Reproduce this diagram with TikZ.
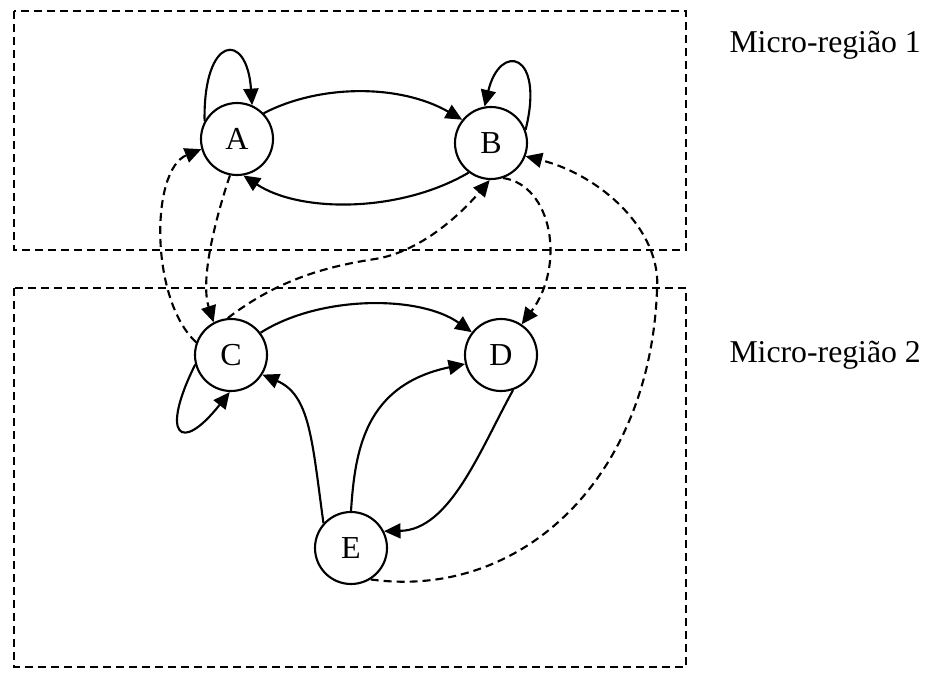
\documentclass[tikz,border=0pt]{standalone}
\usepackage{fontspec}
\setmainfont{Liberation Serif}
\usetikzlibrary{arrows.meta}
\begin{document}
\begin{tikzpicture}[x=0.4pt,y=-0.4pt,
  state/.style={circle,draw,line width=0.85pt,minimum size=28.8pt,inner sep=0pt,font=\fontsize{12.8}{14}\selectfont},
  edge/.style={line width=0.85pt,-{Triangle[length=6.6pt,width=6pt]}},
  link/.style={edge,dash pattern=on 3.2pt off 2pt},
  region/.style={line width=0.85pt,dash pattern=on 3.2pt off 2pt},
  tag/.style={anchor=base west,inner sep=0pt,font=\fontsize{12.7}{14}\selectfont}]
\useasboundingbox (0,0) rectangle (932,673);

% micro-regions
\draw[region] (14,11) rectangle (686,250);
\draw[region] (14,288) rectangle (686,667);
\node[tag] (r1) at (729,52) {Micro-região 1};
\node[tag] (r2) at (729,362) {Micro-região 2};

% states
\node[state] (A) at (237,139) {A};
\node[state] (B) at (491,143) {B};
\node[state] (C) at (231,355) {C};
\node[state] (D) at (501,355) {D};
\node[state] (E) at (351,548) {E};

% solid transitions
\draw[edge] (A.151) .. controls (203,35) and (247,30) .. (A.66);
\draw[edge] (A.44) .. controls (320,84) and (400,84) .. (B.141);
\draw[edge] (B.233) .. controls (400,213) and (300,213) .. (A.280);
\draw[edge] (B.21) .. controls (545,52) and (500,42) .. (B.100);
\draw[edge] (C.37) .. controls (320,295) and (420,295) .. (D.142);
\draw[edge] (C.195) .. controls (160,435) and (180,455) .. (C.268);
\draw[edge] (E.138) .. controls (312,440) and (310,395) .. (C.328);
\draw[edge] (E.90) .. controls (355,450) and (365,385) .. (D.194);
\draw[edge] (D.289) .. controls (480,450) and (450,530) .. (E.27);

% dashed transitions
\draw[link] (C.160) .. controls (150,300) and (150,170) .. (A.196);
\draw[link] (A.259) .. controls (215,220) and (200,280) .. (C.118);
\draw[link] (C.95) .. controls (280,278) and (330,266) .. (375,259)
            .. controls (420,252) and (460,215) .. (B.268);
\draw[link] (B.289) .. controls (552,185) and (566,265) .. (D.56);
\draw[link] (E.302) .. controls (520,600) and (650,480) .. (657,290)
            .. controls (662,230) and (600,175) .. (B.339);
\end{tikzpicture}
\end{document}
